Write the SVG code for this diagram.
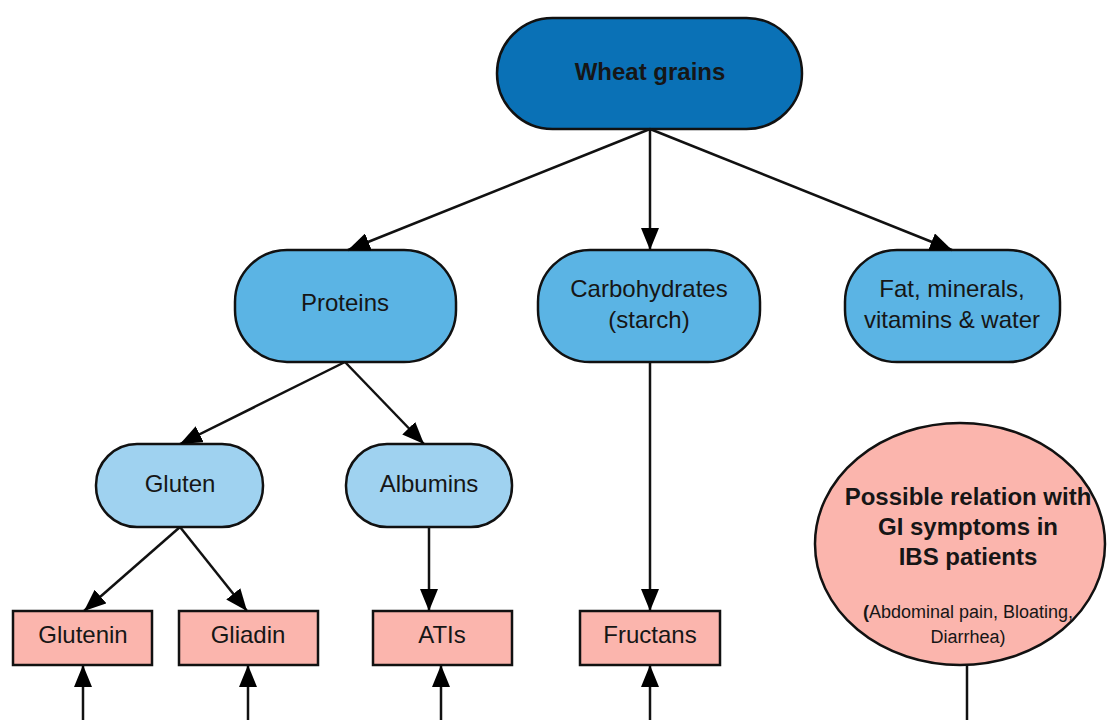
<svg xmlns="http://www.w3.org/2000/svg" width="1108" height="720" viewBox="0 0 1108 720">
<style>
.n{stroke:#111;stroke-width:2.5}
.l0{fill:#0a71b6}
.l1{fill:#5bb4e4}
.l2{fill:#9fd2f0}
.pk{fill:#fbb5ad}
text{font-family:"Liberation Sans",Arial,sans-serif;fill:#161616;text-anchor:middle}
.t{font-size:24px}
.tb{font-size:24px;font-weight:bold}
.ts{font-size:18px}
.c line{stroke:#111;stroke-width:2.5}
</style>
<defs>
<marker id="ah" markerUnits="userSpaceOnUse" markerWidth="24" markerHeight="18" refX="22" refY="9" orient="auto">
<path d="M0,0 L22,9 L0,18 Z" fill="#000"/>
</marker>
</defs>
<g id="wheat"><rect class="n l0" x="497" y="18" width="305" height="111" rx="55.5"/><text class="tb" x="650" y="80">Wheat grains</text></g>
<g id="proteins"><rect class="n l1" x="235" y="250" width="221" height="112" rx="52"/><text class="t" x="345" y="311">Proteins</text></g>
<g id="carbs"><rect class="n l1" x="538" y="250" width="222" height="112" rx="52"/><text class="t" x="649" y="297">Carbohydrates</text><text class="t" x="649" y="328">(starch)</text></g>
<g id="fat"><rect class="n l1" x="845" y="250" width="215" height="112" rx="52"/><text class="t" x="952" y="297">Fat, minerals,</text><text class="t" x="952" y="328">vitamins &amp; water</text></g>
<g id="gluten"><rect class="n l2" x="96" y="444" width="167" height="83" rx="41"/><text class="t" x="180" y="492">Gluten</text></g>
<g id="albumins"><rect class="n l2" x="346" y="444" width="166" height="83" rx="41"/><text class="t" x="429" y="492">Albumins</text></g>
<g id="glutenin"><rect class="n pk" x="13" y="611" width="139" height="54"/><text class="t" x="83" y="643">Glutenin</text></g>
<g id="gliadin"><rect class="n pk" x="179" y="611" width="139" height="54"/><text class="t" x="248" y="643">Gliadin</text></g>
<g id="atis"><rect class="n pk" x="373" y="611" width="139" height="54"/><text class="t" x="442" y="643">ATIs</text></g>
<g id="fructans"><rect class="n pk" x="580" y="611" width="140" height="54"/><text class="t" x="650" y="643">Fructans</text></g>
<g id="relation"><ellipse class="n pk" cx="960" cy="544" rx="145" ry="121"/>
<text class="tb" x="968" y="505">Possible relation with</text>
<text class="tb" x="968" y="535">GI symptoms in</text>
<text class="tb" x="968" y="565">IBS patients</text>
<text class="ts" x="968" y="618"><tspan font-weight="bold">(</tspan>Abdominal pain, Bloating,</text>
<text class="ts" x="968" y="643">Diarrhea)</text></g>
<g class="c" id="connectors">
<line x1="650" y1="129" x2="348" y2="250" marker-end="url(#ah)"/>
<line x1="650" y1="129" x2="650" y2="250" marker-end="url(#ah)"/>
<line x1="650" y1="129" x2="952" y2="250" marker-end="url(#ah)"/>
<line x1="345" y1="362" x2="180" y2="444" marker-end="url(#ah)"/>
<line x1="345" y1="362" x2="424" y2="444" marker-end="url(#ah)"/>
<line x1="180" y1="527" x2="84" y2="611" marker-end="url(#ah)"/>
<line x1="180" y1="527" x2="247" y2="611" marker-end="url(#ah)"/>
<line x1="429" y1="527" x2="429" y2="611" marker-end="url(#ah)"/>
<line x1="650" y1="362" x2="650" y2="611" marker-end="url(#ah)"/>
<line x1="83" y1="722" x2="83" y2="665" marker-end="url(#ah)"/>
<line x1="248" y1="722" x2="248" y2="665" marker-end="url(#ah)"/>
<line x1="441" y1="722" x2="441" y2="665" marker-end="url(#ah)"/>
<line x1="650" y1="722" x2="650" y2="665" marker-end="url(#ah)"/>
<line x1="967" y1="665" x2="967" y2="722"/>
</g>
</svg>
